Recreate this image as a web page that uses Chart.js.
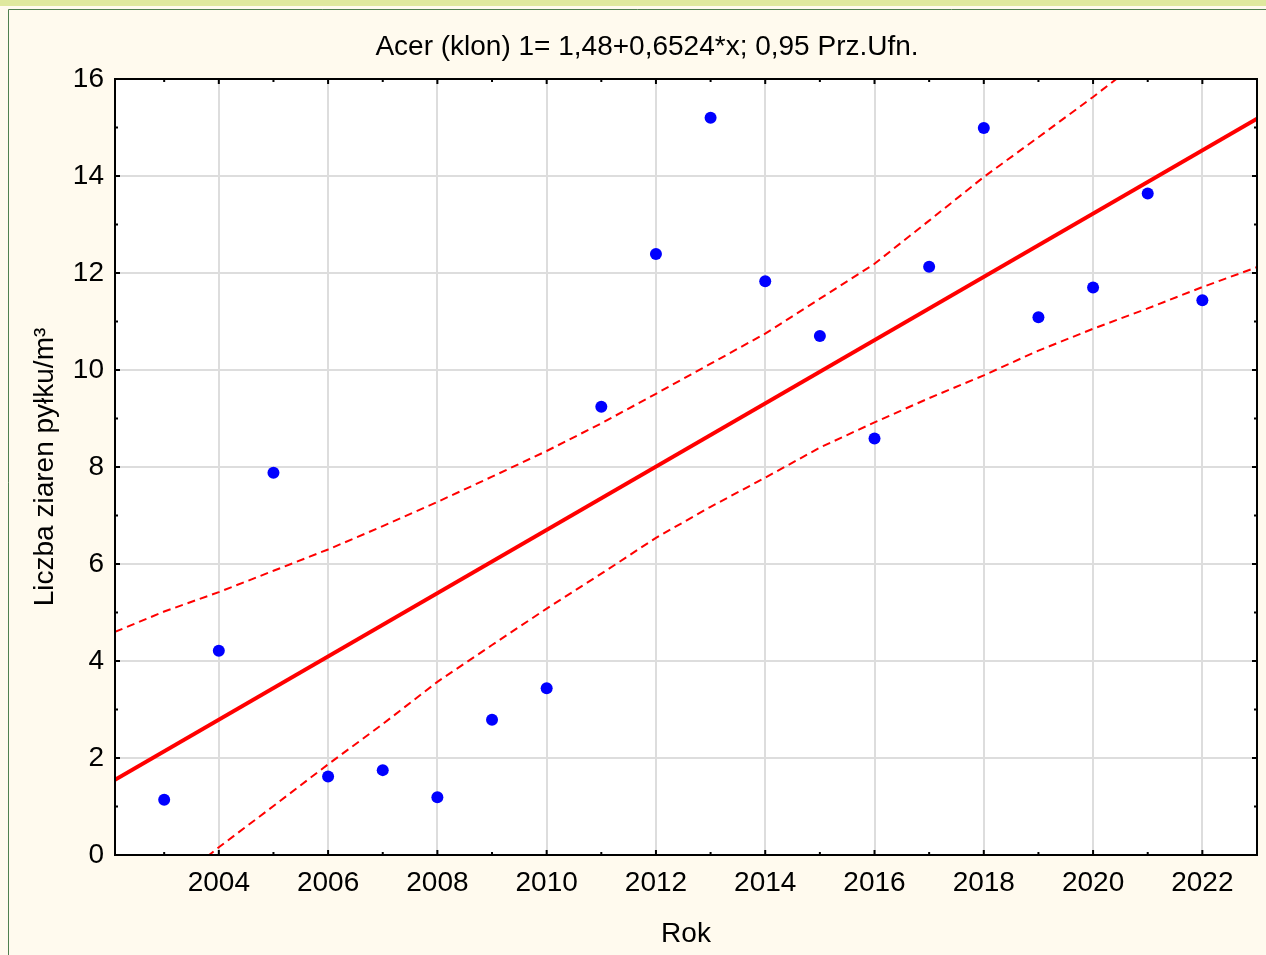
<!DOCTYPE html>
<html>
<head>
<meta charset="utf-8">
<script src="https://cdn.jsdelivr.net/npm/chart.js@4"></script>
<style>
  body { margin: 0; background: #fffaee; overflow: hidden; }
  canvas { display: block; }
</style>
</head>
<body>
<canvas id="myChart" width="1266" height="955"></canvas>
<script>
// data
const years = [2003, 2004, 2005, 2006, 2007, 2008, 2009, 2010, 2011, 2012,
               2013, 2014, 2015, 2016, 2017, 2018, 2019, 2020, 2021, 2022];
const pollen = [1.14, 4.21, 7.88, 1.62, 1.75, 1.19, 2.79, 3.44, 9.24, 12.39,
                15.20, 11.83, 10.70, 8.59, 12.13, 14.99, 11.09, 11.70, 13.64, 11.44];

// fitted line (ends of the axis)
const fitX = [2002.1, 2023];
const fitY = [1.55, 15.18];

// 0,95 confidence band
const bandX = [2002.1, 2003, 2004, 2005, 2006, 2007, 2008, 2009, 2010, 2011, 2012,
               2013, 2014, 2015, 2016, 2017, 2018, 2019, 2020, 2021, 2022, 2023];
const bandUp = [4.60, 5.02, 5.42, 5.86, 6.30, 6.78, 7.28, 7.80, 8.33, 8.90, 9.51,
                10.13, 10.75, 11.47, 12.19, 13.08, 13.98, 14.80, 15.63, 16.50, 17.35, 18.24];
const bandLow = [-1.51, -0.74, 0.16, 1.01, 1.87, 2.70, 3.57, 4.33, 5.08, 5.80, 6.54,
                 7.18, 7.78, 8.40, 8.92, 9.42, 9.89, 10.40, 10.85, 11.27, 11.71, 12.12];

const xMajor = [2004, 2006, 2008, 2010, 2012, 2014, 2016, 2018, 2020, 2022];
const xMinor = [2003, 2005, 2007, 2009, 2011, 2013, 2015, 2017, 2019, 2021, 2023];
const yMajor = [0, 2, 4, 6, 8, 10, 12, 14, 16];
const yMinor = [1, 3, 5, 7, 9, 11, 13, 15];

const titleText = 'Acer (klon) 1= 1,48+0,6524*x; 0,95 Prz.Ufn.';
const FONT = 'Arial, "Liberation Sans", sans-serif';

const pts = (xs, ys) => xs.map((x, i) => ({x: x, y: ys[i]}));

// page background, frame and title
const frame = {
  id: 'frame',
  beforeDraw(chart) {
    const c = chart.ctx, a = chart.chartArea;
    c.save();
    c.fillStyle = '#fffaee';
    c.fillRect(0, 0, chart.width, chart.height);
    c.fillStyle = '#dfe89e';
    c.fillRect(0, 0, chart.width, 6);
    c.strokeStyle = '#4f7f4f';
    c.lineWidth = 1;
    c.beginPath();
    c.moveTo(8.5, chart.height);
    c.lineTo(8.5, 9.5);
    c.lineTo(chart.width, 9.5);
    c.stroke();
    c.fillStyle = '#ffffff';
    c.fillRect(a.left, a.top, a.right - a.left, a.bottom - a.top);
    c.fillStyle = '#000';
    c.font = '28px ' + FONT;
    c.textAlign = 'center';
    c.textBaseline = 'middle';
    c.fillText(titleText, 647, 47);
    c.restore();
  },
  afterDraw(chart) {
    const c = chart.ctx, a = chart.chartArea;
    const xs = chart.scales.x, ys = chart.scales.y;
    c.save();
    c.strokeStyle = '#000';
    c.lineWidth = 2;
    c.strokeRect(a.left, a.top, a.right - a.left, a.bottom - a.top);
    // inward tick marks on all sides
    c.beginPath();
    const mark = (vals, len) => {
      vals.forEach(v => {
        if (v < xs.min || v > xs.max) return;
        const px = xs.getPixelForValue(v);
        c.moveTo(px, a.bottom); c.lineTo(px, a.bottom - len);
        c.moveTo(px, a.top); c.lineTo(px, a.top + len);
      });
    };
    const markY = (vals, len) => {
      vals.forEach(v => {
        const py = ys.getPixelForValue(v);
        c.moveTo(a.left, py); c.lineTo(a.left + len, py);
        c.moveTo(a.right, py); c.lineTo(a.right - len, py);
      });
    };
    mark(xMajor, 5); mark(xMinor, 3);
    markY(yMajor, 5); markY(yMinor, 3);
    c.stroke();
    c.restore();
  }
};

const cht = document.getElementById('myChart').getContext('2d');

const data = {
  datasets: [
    {
      data: pts(years, pollen),
      backgroundColor: '#0000ff',
      borderWidth: 0,
      pointRadius: 6,
      pointHoverRadius: 6,
      showLine: false,
      order: 0
    },
    {
      data: pts(fitX, fitY),
      borderColor: '#ff0000',
      borderWidth: 4,
      pointRadius: 0,
      showLine: true,
      order: 1
    },
    {
      data: pts(bandX, bandUp),
      borderColor: '#ff0000',
      borderWidth: 2,
      borderDash: [8, 5],
      pointRadius: 0,
      showLine: true,
      order: 2
    },
    {
      data: pts(bandX, bandLow),
      borderColor: '#ff0000',
      borderWidth: 2,
      borderDash: [8, 5],
      pointRadius: 0,
      showLine: true,
      order: 2
    }
  ]
};

const config = {
  type: 'scatter',
  data: data,
  plugins: [frame],
  options: {
    responsive: false,
    animation: false,
    layout: { padding: { top: 79, right: 9, left: 0, bottom: 0 } },
    plugins: { legend: { display: false }, tooltip: { enabled: false } },
    scales: {
      x: {
        type: 'linear',
        min: 2002.1,
        max: 2023,
        afterBuildTicks: s => { s.ticks = xMajor.map(v => ({value: v})); },
        afterFit: s => { s.height = 100; },
        border: { display: false },
        grid: { color: '#dddddd', lineWidth: 2, drawTicks: false },
        ticks: {
          padding: 11,
          color: '#000',
          font: { size: 28, family: FONT },
          maxRotation: 0,
          callback: v => String(v)
        },
        title: {
          display: true,
          text: 'Rok',
          color: '#000',
          font: { size: 28, family: FONT },
          padding: { top: 0, bottom: 4 }
        }
      },
      y: {
        min: 0,
        max: 16,
        afterBuildTicks: s => { s.ticks = yMajor.map(v => ({value: v})); },
        afterFit: s => { s.width = 115; },
        border: { display: false },
        grid: { color: '#dddddd', lineWidth: 2, drawTicks: false },
        ticks: {
          padding: 11,
          color: '#000',
          font: { size: 28, family: FONT },
          callback: v => String(v)
        },
        title: {
          display: true,
          text: 'Liczba ziaren pyłku/m³',
          color: '#000',
          font: { size: 28, family: FONT },
          padding: { top: 28, bottom: 0 }
        }
      }
    }
  }
};

const myChart = new Chart(cht, config);
</script>
</body>
</html>
